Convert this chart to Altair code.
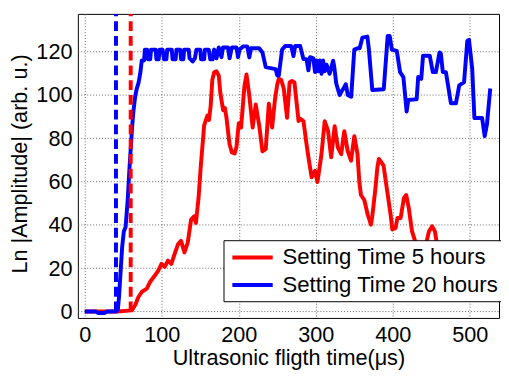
import altair as alt
import pandas as pd

# ---- data ----
series = ["Setting Time 5 hours", "Setting Time 20 hours"]
colors = ["#ff0000", "#0000ff"]

red_x = [0, 42, 61, 65.5, 69.8, 74, 80.5, 84.7, 91, 95.4, 99.6, 103.8, 108, 112.4, 116.6, 121, 125,
         129.4, 133.7, 138, 142, 144.3, 147.7, 150.7, 155, 159.2, 161.3, 163.5, 165.6, 168, 171, 174,
         176, 179.7, 182, 184, 188, 191, 194.6, 197, 200, 203, 207.3, 210, 213.6, 218, 222, 226.5,
         230.7, 235, 239, 243.3, 247, 250, 252, 255, 258.4, 262.7, 266, 269, 272.3, 277.6, 280, 284,
         288, 291, 294.6, 299, 302.2, 307.4, 311.6, 316, 320, 324.5, 328.7, 333, 337, 341.4, 345.8,
         350, 354.2, 356.5, 358.7, 363, 367.5, 371.6, 373.4, 377.7, 380, 382, 385, 388, 392.6, 397.2,
         399.4, 403.7, 406, 410.2, 414.4, 417.5, 420.8, 425, 429, 436, 441, 444, 447, 451, 454.7,
         456.8, 462, 470]
red_y = [0, 0, 0.5, 3, 6.8, 9, 10.6, 13.6, 16.6, 18.9, 22, 20.6, 23.5, 22, 26.5, 31, 32.6,
         27.3, 31.8, 42.4, 43.9, 40.9, 52.3, 67.4, 86, 90.5, 88.5, 95, 107, 110.5, 111, 109,
         101, 93, 94, 89.5, 77.3, 73.5, 73, 76, 87, 85, 104, 109.5, 100, 85, 95.6, 86,
         74, 75, 96, 85, 98, 105, 107.5, 107, 103, 89.5, 105.8, 106.5, 105.8, 88, 89, 88,
         77.3, 70, 62, 65, 59.8, 72.7, 87.9, 83.3, 71.2, 85.6, 75.7, 72.7, 83.3, 74.2, 69.7,
         81, 72.7, 60, 53.8, 51.5, 44.7, 40.1, 44, 57.6, 66.6, 70.5, 69, 67.4, 56, 44.7,
         37.9, 38.6, 43.2, 43.2, 52.3, 53.8, 47.7, 37, 32.5, 27, 30, 32.5, 37, 39.4, 37,
         32.5, 24, 18]

blue_x = [0, 14, 17, 26, 29, 41, 43, 44.5, 48.5, 50.7, 53, 55.8, 58, 61.3, 63, 65.5, 67.5, 69.8,
          72, 74, 77, 78, 81, 82, 85, 86, 92, 93, 96, 97, 101, 103, 106, 107, 113, 114, 118, 119,
          124, 125, 128, 129, 135, 136, 140, 143, 145, 150, 151, 155, 156, 161, 163, 166, 168,
          171, 174, 177.5, 179.5, 186, 188, 191, 197, 199, 201, 206, 211, 213.7, 215.8, 226.5,
          230.7, 235, 247.8, 250, 252, 253, 256.3, 260.5, 268, 271, 273.3, 279.7, 284, 288, 290.4,
          292.5, 296.8, 299, 301, 303, 305, 307.4, 309.5, 311.6, 314, 318, 322.5, 324, 326.6,
          330.9, 334, 337.3, 339, 341.6, 346, 350, 354.2, 357, 360.5, 367, 369, 373.4, 388.3,
          393.4, 396, 398.8, 405.2, 409.5, 413.8, 418, 420.2, 428.7, 431, 433, 437, 439.3, 448,
          452, 456, 460.7, 462.5, 465, 469, 475.5, 482, 486.3, 492.6, 496.8, 499, 503.2, 506,
          516, 519.4, 522.3, 526.6]
blue_y = [0, 0, -0.7, -0.7, 0, 0, 1, 7, 29.6, 37, 39, 52, 66, 84.4, 92, 99.5, 103, 105.6,
          110, 116, 116, 121, 121, 116.5, 116.5, 121, 121, 116.5, 116.5, 121, 121, 116.5, 116.5, 121, 121, 116.5, 116.5, 121,
          121, 116.5, 116.5, 121, 121, 117, 115.5, 117, 121, 121, 116.5, 116.5, 121, 121, 116.5, 116.5, 121,
          117, 122, 117.5, 122, 122, 117, 122, 122, 117.5, 121, 122.5, 122.5, 117.4, 121.6, 121.6,
          119.7, 112.9, 112, 109, 109, 112, 121, 122.7, 122.7, 118, 122.7, 122.7, 116.6, 116.6, 111.4,
          117.5, 117, 110.6, 116, 111, 116, 109.8, 116, 111, 114, 109.8, 115.9, 113, 105.3,
          100, 102, 103.8, 105, 100, 99.2, 121, 121.6, 121.6, 126.5, 127, 121, 102.3, 102.7,
          127.3, 127.3, 121, 120.4, 110.6, 108.3, 92.4, 97.7, 98, 98, 108.3, 107.5, 118.2, 118.2,
          110.6, 110.6, 119.7, 119, 110.6, 110.6, 96.2, 96.2, 104.5, 106, 125, 125.5, 112, 89.4,
          89.4, 81, 86.4, 103]

onset_x = [40.5, 59.6]
onset_colors = ["#0000ff", "#ff0000"]

x_ticks = [0, 100, 200, 300, 400, 500]
y_ticks = [0, 20, 40, 60, 80, 100, 120]
x_domain = [-9, 538]
y_domain = [-3, 137.5]

FONT = "Liberation Sans"

red_df = pd.DataFrame({"t": red_x, "amp": red_y, "series": series[0], "i": range(len(red_x))})
blue_df = pd.DataFrame({"t": blue_x, "amp": blue_y, "series": series[1], "i": range(len(blue_x))})
onset_df = pd.DataFrame({"t": onset_x, "c": onset_colors, "y0": 0, "y1": y_domain[1]})

xscale = alt.Scale(domain=x_domain, nice=False, zero=False)
yscale = alt.Scale(domain=y_domain, nice=False, zero=False)
cscale = alt.Scale(domain=series, range=colors)

xaxis = alt.Axis(values=x_ticks, title="Ultrasonic fligth time(μs)", grid=True, ticks=False, tickSize=0,
                 domain=False, labelFontSize=22, labelFont=FONT, labelColor="black",
                 labelBaseline="alphabetic", labelPadding=24,
                 titleFontSize=22, titleFont=FONT, titleFontWeight="normal", titleColor="black",
                 titleBaseline="alphabetic", titleX=214, titleY=47)
yaxis = alt.Axis(values=y_ticks, title="Ln |Amplitude| (arb. u.)", grid=True, ticks=False, tickSize=0,
                 domain=False, labelFontSize=22, labelFont=FONT, labelColor="black",
                 labelPadding=6,
                 titleFontSize=22, titleFont=FONT, titleFontWeight="normal", titleColor="black",
                 titleBaseline="alphabetic", titleX=-52, titleY=152)

legend = alt.Legend(title=None, orient="none", legendX=148, legendY=230, direction="vertical",
                    fillColor="white", strokeColor="black", padding=5, cornerRadius=0,
                    symbolType="M-2,0L2,0", symbolSize=420, symbolStrokeWidth=4,
                    symbolOffset=12, labelOffset=18, labelLimit=400,
                    labelFontSize=22.5, labelFont=FONT, labelColor="black",
                    rowPadding=4)

def line(df):
    return alt.Chart(df).mark_line(strokeWidth=4, strokeJoin="round", clip=True).encode(
        x=alt.X("t:Q", scale=xscale, axis=xaxis),
        y=alt.Y("amp:Q", scale=yscale, axis=yaxis),
        color=alt.Color("series:N", scale=cscale, legend=legend),
        order="i:Q",
    )

rules = alt.Chart(onset_df).mark_rule(strokeWidth=4, strokeDash=[10, 5], clip=True).encode(
    x=alt.X("t:Q", scale=xscale),
    y=alt.Y("y0:Q", scale=yscale),
    y2="y1:Q",
    color=alt.Color("c:N", scale=None, legend=None),
)

chart = alt.layer(line(red_df), line(blue_df), rules).properties(
    width=428, height=309,
    autosize=alt.AutoSizeParams(type="none"),
    padding={"left": 71, "top": 3, "right": 2, "bottom": 56},
).configure_view(
    stroke="black", strokeWidth=1
).configure_axis(
    gridColor="#666666", gridDash=[1, 2], gridWidth=1, gridOpacity=1
)

chart.save("out.html", embed_options={"renderer": "svg", "actions": False})
